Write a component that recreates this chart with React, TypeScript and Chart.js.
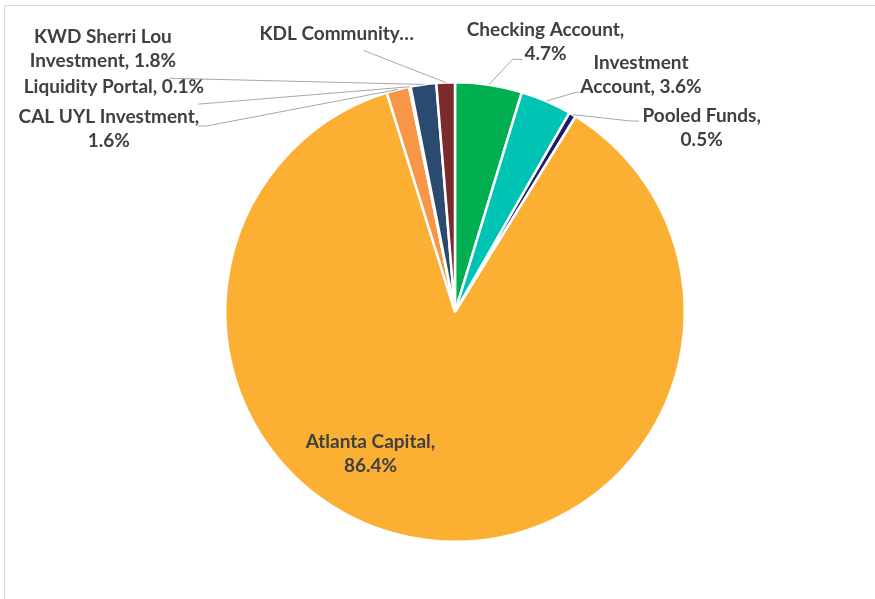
import React, { useEffect, useRef } from "react";
import { Chart, registerables } from "chart.js";

Chart.register(...registerables);

const categories = [
  "Checking Account",
  "Investment Account",
  "Pooled Funds",
  "Atlanta Capital",
  "CAL UYL Investment",
  "Liquidity Portal",
  "KWD Sherri Lou Investment",
  "KDL Community…",
];
const values = [4.7, 3.6, 0.5, 86.4, 1.6, 0.1, 1.8, 1.3];
const colors = [
  "#00B050",
  "#00C4B3",
  "#1F1A6B",
  "#FBB034",
  "#F79646",
  "#A5A5A5",
  "#2B4A70",
  "#7B2B2B",
];
const labelLines = [
  ["Checking Account,", "4.7%"],
  ["Investment", "Account, 3.6%"],
  ["Pooled Funds,", "0.5%"],
  ["Atlanta Capital,", "86.4%"],
  ["CAL UYL Investment,", "1.6%"],
  ["Liquidity Portal, 0.1%"],
  ["KWD Sherri Lou", "Investment, 1.8%"],
  ["KDL Community…"],
];

// label placement relative to pie centre, in px at reference radius 231
const labelLayout: { pos: number[]; leader: number[][] | null }[] = [
  { pos: [91, -284], leader: [[58, -254], [68, -254]] },
  { pos: [187, -250], leader: [[122, -221], [125, -221]] },
  { pos: [248, -197], leader: [[177, -192], [185, -192]] },
  { pos: [-85, 131], leader: null },
  { pos: [-348, -196], leader: [[-250, -187], [-258, -187]] },
  { pos: [-343, -226], leader: [[-258, -209]] },
  { pos: [-354, -277], leader: [[-287, -235]] },
  { pos: [-119, -280], leader: [[-92, -263]] },
];

const FONT = "bold 19px Lato, 'Noto Sans', sans-serif";
const LINE_H = 24;

const labelPlugin = {
  id: "pieLabels",
  afterDatasetsDraw(chart: any) {
    const meta = chart.getDatasetMeta(0);
    const ctx = chart.ctx;
    ctx.save();
    meta.data.forEach((arc: any, i: number) => {
      const { x, y, outerRadius, startAngle, endAngle } = arc.getProps(
        ["x", "y", "outerRadius", "startAngle", "endAngle"],
        true
      );
      const s = outerRadius / 231;
      const lay = labelLayout[i];
      if (lay.leader) {
        const mid = (startAngle + endAngle) / 2;
        ctx.strokeStyle = "#A6A6A6";
        ctx.lineWidth = 1;
        ctx.beginPath();
        ctx.moveTo(x + Math.cos(mid) * outerRadius, y + Math.sin(mid) * outerRadius);
        lay.leader.forEach((p) => ctx.lineTo(x + p[0] * s, y + p[1] * s));
        ctx.stroke();
      }
      ctx.fillStyle = "#404040";
      ctx.font = FONT;
      ctx.textAlign = "center";
      ctx.textBaseline = "middle";
      labelLines[i].forEach((t, k) => {
        ctx.fillText(t, x + lay.pos[0] * s, y + lay.pos[1] * s + k * LINE_H);
      });
    });
    ctx.restore();
  },
};

export default function App() {
  const ref = useRef<HTMLCanvasElement>(null);
  useEffect(() => {
    if (!ref.current) return;
    const chart = new Chart(ref.current, {
      type: "pie",
      data: {
        labels: categories,
        datasets: [
          {
            data: values,
            backgroundColor: colors,
            borderColor: "#FFFFFF",
            borderWidth: 2.5,
          },
        ],
      },
      options: {
        responsive: false,
        animation: false,
        layout: { padding: { top: 81, bottom: 56, left: 224, right: 189 } },
        plugins: {
          legend: { display: false },
          tooltip: { enabled: false },
        },
      },
      plugins: [labelPlugin],
    });
    return () => chart.destroy();
  }, []);
  return (
    <div
      style={{
        position: "fixed",
        left: 0,
        top: 0,
        width: 875,
        height: 599,
        overflow: "hidden",
        background: "#FFFFFF",
      }}
    >
      <div
        style={{
          position: "absolute",
          left: 4,
          top: 5,
          width: 950,
          height: 700,
          border: "1px solid #D9D9D9",
        }}
      />
      <canvas
        ref={ref}
        width={875}
        height={599}
        style={{ position: "absolute", left: 0, top: 0, width: 875, height: 599 }}
      />
    </div>
  );
}
